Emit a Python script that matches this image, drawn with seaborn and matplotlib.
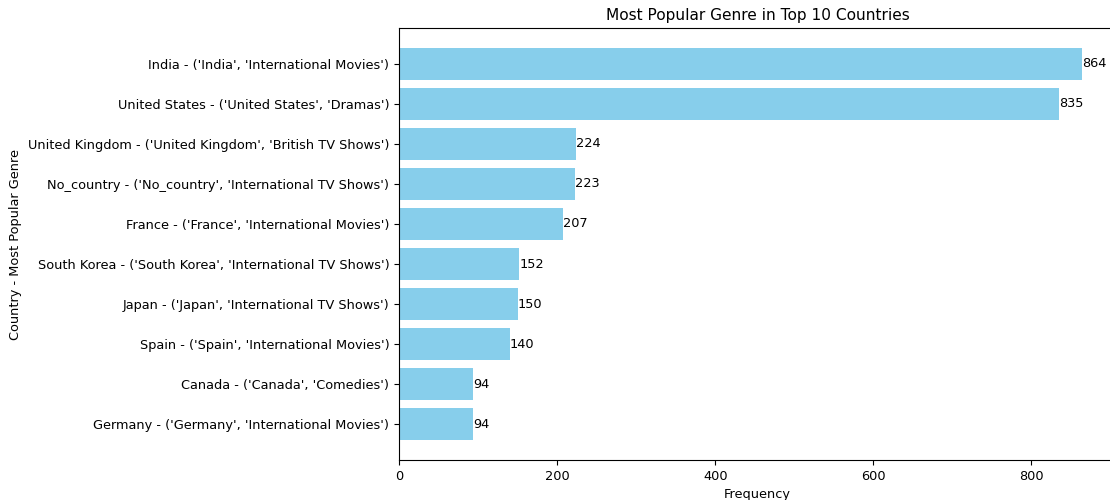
import numpy as np
import pandas as pd
import matplotlib
matplotlib.use("Agg")
import matplotlib.pyplot as plt
import seaborn as sns

countries = ["India", "United States", "United Kingdom", "No_country", "France",
             "South Korea", "Japan", "Spain", "Canada", "Germany"]
genres = ["International Movies", "Dramas", "British TV Shows", "International TV Shows",
          "International Movies", "International TV Shows", "International TV Shows",
          "International Movies", "Comedies", "International Movies"]
counts = [864, 835, 224, 223, 207, 152, 150, 140, 94, 94]

labels = [f"{c} - ('{c}', '{g}')" for c, g in zip(countries, genres)]
df = pd.DataFrame({"label": labels, "count": counts})

fs = 9.25
plt.rcParams["font.size"] = fs

fig = plt.figure(figsize=(11.1, 5), dpi=100)
# the original picture was cropped a little on the right, so the axes run past the edge
ax = fig.add_axes([0.3595, 0.08, 0.646, 0.864])

sns.barplot(data=df, x="count", y="label", orient="h", color="skyblue",
            saturation=1, width=0.8, ax=ax)

for i, v in enumerate(counts):
    ax.text(v, i, str(v), va="center", ha="left", fontsize=fs)

ax.set_xlim(0, max(counts) * 1.05)
ax.set_ylim(len(counts) - 1 + 0.89, -0.89)
ax.tick_params(labelsize=fs)
ax.set_title("Most Popular Genre in Top 10 Countries", fontsize=fs * 1.2)
ax.set_xlabel("Frequency", fontsize=fs)
ax.set_ylabel("Country - Most Popular Genre", fontsize=fs)

fig.savefig("out.png", dpi=100)
